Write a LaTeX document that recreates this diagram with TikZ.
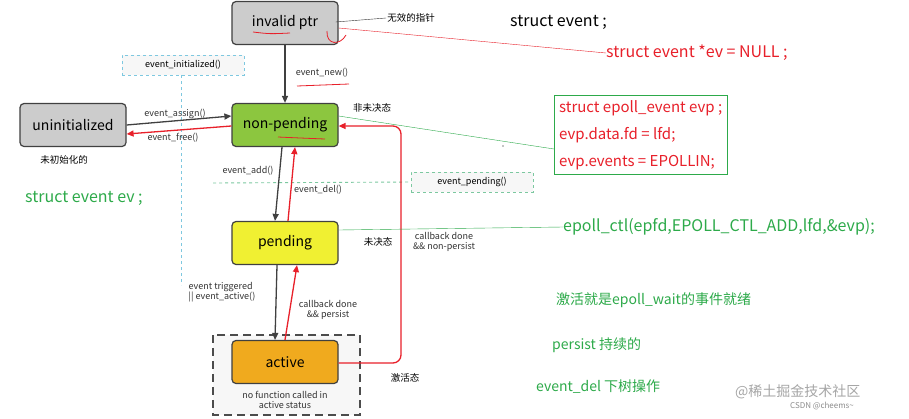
\documentclass[tikz,border=0pt]{standalone}
\usepackage{fontspec}
\setmainfont{Noto Sans CJK SC}
\usetikzlibrary{arrows.meta}
\definecolor{myred}{HTML}{E8202A}
\definecolor{mygreen}{HTML}{2DAA4A}
\definecolor{dblue}{HTML}{7EC8E0}
\definecolor{dgreen}{HTML}{7CC8A0}
\tikzset{
  x=1pt,y=-1pt,
  st/.style={draw=black!75,line width=1.2pt,rounded corners=4pt,minimum width=106pt,minimum height=43pt,font=\fontsize{14}{16}\selectfont,inner sep=0pt},
  lbl/.style={font=\fontsize{9}{10.5}\selectfont,text=black!80,align=center,inner sep=1pt},
  note/.style={font=\fontsize{9.5}{11}\selectfont,inner sep=1pt},
  big/.style={font=\fontsize{16}{18}\selectfont,inner sep=0pt,anchor=west},
  mid/.style={font=\fontsize{14}{16}\selectfont,inner sep=0pt,anchor=west},
  blk/.style={-{Triangle[length=7pt,width=6pt]},draw=black!75,line width=1.3pt},
  rd/.style={-{Triangle[length=7pt,width=6pt]},draw=myred,line width=1.3pt},
  dbox/.style={dashed,line width=0.9pt,minimum width=122pt,minimum height=20pt,font=\fontsize{9}{10}\selectfont,fill=black!3},
}
\begin{document}
\begin{tikzpicture}
\useasboundingbox[fill=white] (0,0) rectangle (909,418);
% dashed helpers
\node[dbox,draw=dblue] (ei) at (183,65) {event\_initialized()};
\draw[dashed,dblue,line width=0.9pt] (ei.south) ++(-2,0) coordinate (eis) -- ++(0,210) coordinate (eie);
\node[dbox,draw=dgreen] (ep) at (472,182) {event\_pending()};
\coordinate (epl) at (213,183);
\draw[dashed,dgreen,line width=0.9pt] (epl) -- (ep.west);
\draw[dashed,black!70,line width=1.2pt,fill=black!3,dash pattern=on 8pt off 5pt] (213,335) rectangle (360,415);
% states
\node[st,fill=black!20] (inv) at (285,23) {invalid ptr};
\node[st,fill={rgb,255:red,140;green,198;blue,63}] (np) at (285,125) {non-pending};
\node[st,fill=black!20] (un) at (73,125) {uninitialized};
\node[st,fill={rgb,255:red,240;green,240;blue,50}] (pe) at (285,243) {pending};
\node[st,fill={rgb,255:red,240;green,170;blue,30}] (ac) at (285,362) {active};
\node[lbl] (nf) at (285,400) {no function called in\\active status};
% transitions
\draw[blk] (inv) -- (np);
\node[lbl] (lnew) at (322,73) {event\_new()};
\draw[blk] (un.east) -- ([yshift=9pt]np.west);
\node[lbl] (lass) at (175,114) {event\_assign()};
\draw[rd] ([yshift=-1pt]np.west) -- ([yshift=-9pt]un.east);
\node[lbl] (lfree) at (173,138) {event\_free()};
\draw[blk] ([xshift=-3pt]np.south) -- ([xshift=-10pt]pe.north);
\node[lbl] (ladd) at (248,171) {event\_add()};
\draw[rd] ([xshift=3pt]pe.north) -- ([xshift=10pt]np.south);
\node[lbl] (ldel) at (318,190) {event\_del()};
\draw[blk] ([xshift=-8pt]pe.south) -- ([xshift=-10pt]ac.north);
\node[lbl,align=left] (ltr) at (222,292) {event triggered\\|| event\_active()};
\draw[rd] ([xshift=0pt]ac.north) -- ([xshift=12pt]pe.south);
\node[lbl] (lcp) at (328,310) {callback done\\\&\& persist};
\coordinate (c1) at (401,363);
\coordinate (c2) at (401,126);
\draw[rd,rounded corners=8pt] ([yshift=-1pt]ac.east) -- (c1) -- (c2) -- ([yshift=-1pt]np.east);
\node[lbl] (lcn) at (444,242) {callback done\\\&\& non-persist};
% chinese notes
\node[note] (n1) at (411,18) {无效的指针};
\draw[black!80] ([xshift=-3pt,yshift=1pt]inv.east) -- (n1.west);
\node[note] (n2) at (372,108) {非未决态};
\node[note] (n3) at (64,160) {未初始化的};
\node[note] (n4) at (378,242) {未决态};
\node[note] (n5) at (405,378) {激活态};
% handwritten red marks
\draw[myred,line width=0.8pt] (253,32) .. controls (270,34) .. (290,33);
\draw[myred,line width=0.8pt] (297,86) -- (349,84);
\draw[myred,line width=0.8pt] (278,137) .. controls (300,138) .. (325,139);
\draw[myred,line width=0.8pt] (327,31) .. controls (326,45) and (340,46) .. (346,35);
% right annotations
\node[big,text=black] (se) at (510,22) {struct event ;};
\node[big,text=myred] (nul) at (606,53) {struct event *ev = NULL ;};
\draw[myred] ([yshift=-5pt]inv.east) -- (nul.west);
\node[draw=mygreen,anchor=north west,inner sep=5pt,align=left,text=myred,font=\fontsize{15}{27}\selectfont] (ebox) at (554,95) {struct epoll\_event evp ;\\evp.data.fd = lfd;\\evp.events = EPOLLIN;};
\draw[mygreen] ([yshift=9pt]np.east) -- (ebox.west |- 0,149);
\node[fill=black,circle,inner sep=0.5pt] (dot) at (503,146) {};
\node[big,text=mygreen] (ctl) at (563,227) {epoll\_ctl(epfd,EPOLL\_CTL\_ADD,lfd,\&evp);};
\draw[mygreen] ([yshift=13pt]pe.east) -- (ctl.west);
\node[big,text=mygreen] (sev) at (25,198) {struct event ev ;};
\node[mid,text=mygreen] (t1) at (556,300) {激活就是epoll\_wait的事件就绪};
\node[mid,text=mygreen] (t2) at (552,345) {persist 持续的};
\node[mid,text=mygreen] (t3) at (536,387) {event\_del 下树操作};
\node[mid,text=black!35] (w1) at (735,392) {@稀土掘金技术社区};
\node[mid,text=black!45,font=\fontsize{8}{9}\selectfont] (w2) at (790,406) {CSDN @cheems\textasciitilde};
\end{tikzpicture}
\end{document}
